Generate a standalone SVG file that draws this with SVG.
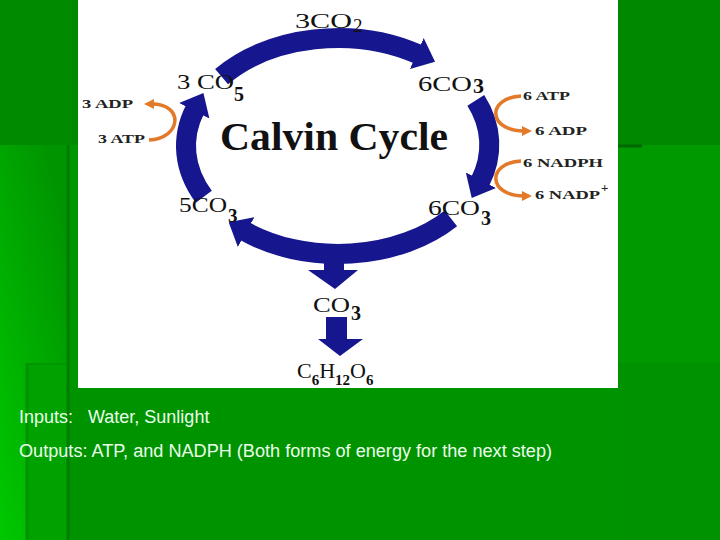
<svg xmlns="http://www.w3.org/2000/svg" width="720" height="540" viewBox="0 0 720 540">
<defs>
  <linearGradient id="leftg" x1="0.7" y1="0" x2="0" y2="1">
    <stop offset="0" stop-color="#009400"/>
    <stop offset="0.5" stop-color="#00ae00"/>
    <stop offset="1" stop-color="#00c800"/>
  </linearGradient>
  <marker id="bh" viewBox="0 0 20 34" refX="2" refY="17" markerWidth="20" markerHeight="34" markerUnits="userSpaceOnUse" orient="auto">
    <path d="M0,0 L20,17 L0,34 z" fill="#16168e"/>
  </marker>
  <marker id="oh" viewBox="0 0 10 10" refX="2" refY="5" markerWidth="10" markerHeight="10" markerUnits="userSpaceOnUse" orient="auto">
    <path d="M0,0 L10,5 L0,10 z" fill="#e27a2a"/>
  </marker>
  <style>
    .ring{fill:none;stroke:#16168e;stroke-width:20;marker-end:url(#bh)}
    .oarr{fill:none;stroke:#e27a2a;stroke-width:3.5;marker-end:url(#oh)}
    .lbl{font-family:"Liberation Serif",serif;fill:#111;}
    .sm{font-family:"Liberation Serif",serif;font-weight:bold;font-size:13px;fill:#222;}
    .cap{font-family:"Liberation Sans",Arial,sans-serif;font-size:18px;fill:#eaffea;}
  </style>
</defs>

<!-- background -->
<g id="background">
  <rect x="0" y="0" width="720" height="540" fill="#009300"/>
  <rect x="0" y="0" width="78" height="145" fill="#008a00"/>
  <rect x="0" y="145" width="68" height="395" fill="url(#leftg)"/>
  <rect x="68" y="145" width="10" height="243" fill="#009600"/>
  <rect x="26" y="363" width="42" height="177" fill="#00a200"/>
  <line x1="27" y1="363" x2="27" y2="540" stroke="#009200" stroke-width="3"/>
  <line x1="26" y1="364" x2="68" y2="364" stroke="#009600" stroke-width="2"/>
  <line x1="68" y1="145" x2="68" y2="540" stroke="#007c00" stroke-width="3"/>
  <rect x="618" y="0" width="102" height="145" fill="#008800"/>
  <rect x="618" y="145" width="102" height="218" fill="#009a00"/>
  <rect x="618" y="363" width="102" height="177" fill="#009200"/>
  <line x1="618" y1="146" x2="642" y2="146" stroke="#006800" stroke-width="3"/>
  <rect x="78" y="0" width="540" height="388" fill="#ffffff"/>
</g>

<!-- connectors -->
<g id="connectors">
  <path class="ring" d="M221.6,76.6 A152,108 0 0 1 418.6,54.4"/>
  <path class="ring" d="M475.8,100.3 A152,108 0 0 1 480,182"/>
  <path class="ring" d="M450.9,218.3 A152,108 0 0 1 244.4,231.1"/>
  <path class="ring" d="M203.8,196.7 A152,108 0 0 1 195.2,109"/>
  <path d="M324,254 L344,254 L344,270 L358,270 L335,289 L308,270 L324,270 z" fill="#16168e"/>
  <path d="M326,317 L347,317 L347,339 L363,339 L340,356 L318,339 L326,339 z" fill="#16168e"/>
  <path class="oarr" d="M149,140 C182,138 184,104 152,104"/>
  <path class="oarr" d="M521,96 C486,98 488,131 524,131"/>
  <path class="oarr" d="M521,161 C486,163 488,196 524,196"/>
</g>

<g id="title">
  <text class="lbl" x="220" y="150" font-size="40" font-weight="bold" textLength="228" lengthAdjust="spacingAndGlyphs">Calvin Cycle</text>
</g>

<g id="n-3co2">
  <text class="lbl" x="295" y="28" font-size="20" textLength="57" lengthAdjust="spacingAndGlyphs">3CO</text>
  <text class="lbl" x="353" y="32" font-size="19">2</text>
</g>
<g id="n-3co5">
  <text class="lbl" x="177" y="89" font-size="22" textLength="57" lengthAdjust="spacingAndGlyphs">3 CO</text>
  <text class="lbl" x="234" y="101" font-size="20" font-weight="bold">5</text>
</g>
<g id="n-6co3-top">
  <text class="lbl" x="418" y="91" font-size="22" textLength="54" lengthAdjust="spacingAndGlyphs">6CO</text>
  <text class="lbl" x="473" y="93" font-size="22" font-weight="bold">3</text>
</g>
<g id="n-5co3">
  <text class="lbl" x="179" y="212" font-size="20" textLength="48" lengthAdjust="spacingAndGlyphs">5CO</text>
  <text class="lbl" x="228" y="222" font-size="19" font-weight="bold">3</text>
</g>
<g id="n-6co3-bottom">
  <text class="lbl" x="428" y="215" font-size="21" textLength="52" lengthAdjust="spacingAndGlyphs">6CO</text>
  <text class="lbl" x="481" y="225" font-size="20" font-weight="bold">3</text>
</g>
<g id="n-co3">
  <text class="lbl" x="313" y="312" font-size="22" textLength="37" lengthAdjust="spacingAndGlyphs">CO</text>
  <text class="lbl" x="351" y="320" font-size="20" font-weight="bold">3</text>
</g>
<g id="n-glucose">
  <text class="lbl" x="297" y="378" font-size="22">C<tspan dy="7" font-size="15" font-weight="bold">6</tspan><tspan dy="-7">H</tspan><tspan dy="7" font-size="15" font-weight="bold">12</tspan><tspan dy="-7">O</tspan><tspan dy="7" font-size="15" font-weight="bold">6</tspan></text>
</g>

<g id="n-adp-atp-left">
  <text class="sm" x="82" y="108" textLength="51" lengthAdjust="spacingAndGlyphs">3 ADP</text>
  <text class="sm" x="98" y="143" textLength="47" lengthAdjust="spacingAndGlyphs">3 ATP</text>
</g>
<g id="n-atp-right">
  <text class="sm" x="523" y="100" textLength="47" lengthAdjust="spacingAndGlyphs">6 ATP</text>
  <text class="sm" x="535" y="135" textLength="52" lengthAdjust="spacingAndGlyphs">6 ADP</text>
</g>
<g id="n-nadph-right">
  <text class="sm" x="523" y="167" textLength="80" lengthAdjust="spacingAndGlyphs">6 NADPH</text>
  <text class="sm" x="535" y="199" textLength="65" lengthAdjust="spacingAndGlyphs">6 NADP</text>
  <text class="sm" x="601" y="192" font-size="9">+</text>
</g>

<g id="caption">
  <text class="cap" x="19" y="423">Inputs:<tspan x="88">Water, Sunlight</tspan></text>
  <text class="cap" x="19" y="457" textLength="533" lengthAdjust="spacingAndGlyphs">Outputs: ATP, and NADPH (Both forms of energy for the next step)</text>
</g>
</svg>
